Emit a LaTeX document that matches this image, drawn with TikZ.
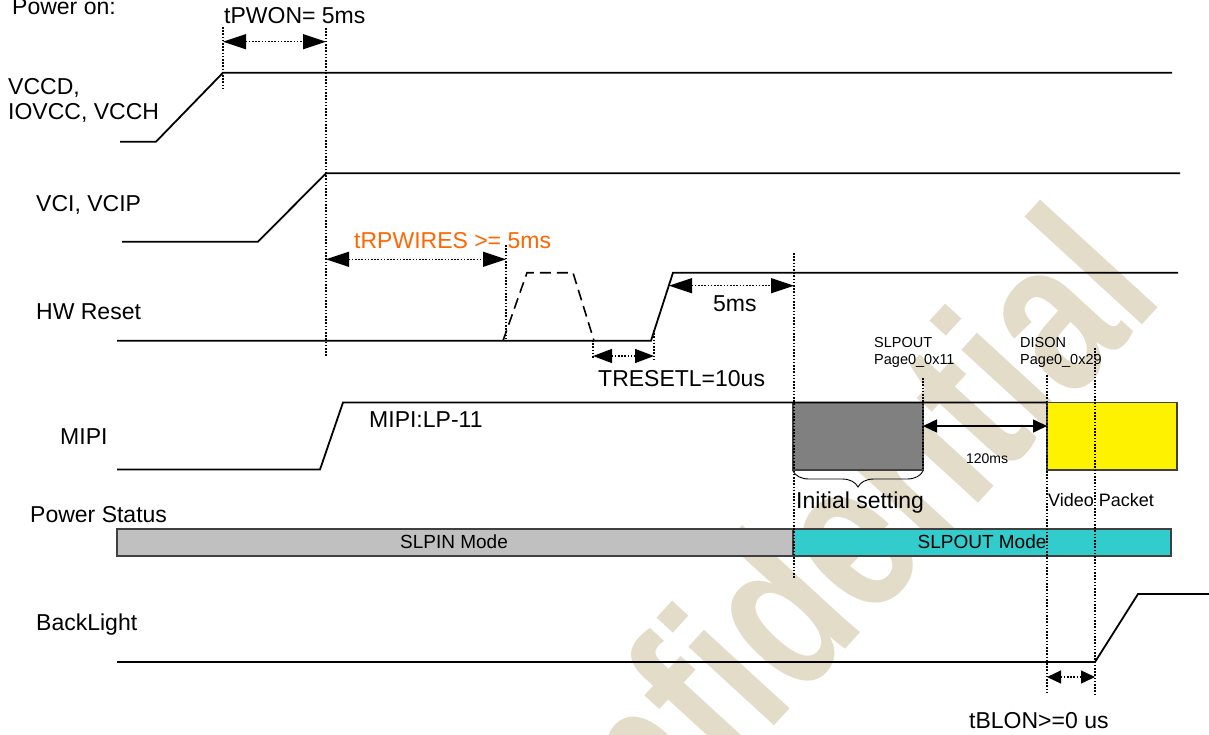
\documentclass[tikz,border=0pt]{standalone}
\usepackage{fontspec}
\setmainfont{Liberation Sans}
\usetikzlibrary{arrows.meta,decorations.pathreplacing}
\definecolor{wmcol}{RGB}{226,220,200}
\definecolor{orangetxt}{RGB}{255,102,0}
\definecolor{slpingray}{RGB}{192,192,192}
\definecolor{slpoutcyan}{RGB}{51,204,204}
\definecolor{initgray}{RGB}{128,128,128}
\begin{document}
\begin{tikzpicture}[x=1pt,y=-1pt,
  sig/.style={line width=1.8pt, black},
  pulse/.style={line width=1.6pt, black, dash pattern=on 11pt off 6pt},
  guide/.style={line width=1.3pt, black, dash pattern=on 1.6pt off 1.6pt},
  bigdim/.style={line width=1.3pt, dash pattern=on 1.6pt off 1.6pt,
    {Triangle[length=23pt,width=15pt]}-{Triangle[length=23pt,width=15pt]}},
  middim/.style={line width=1.3pt, dash pattern=on 1.6pt off 1.6pt,
    {Triangle[length=19pt,width=14pt]}-{Triangle[length=19pt,width=14pt]}},
  smalldim/.style={line width=1.3pt, dash pattern=on 1.6pt off 1.6pt,
    {Triangle[length=14pt,width=13pt]}-{Triangle[length=14pt,width=13pt]}},
  soliddim/.style={line width=1.5pt,
    {Triangle[length=14pt,width=13pt]}-{Triangle[length=14pt,width=13pt]}},
  lbl/.style={inner sep=0pt, anchor=base west, font=\fontsize{23}{26}\selectfont},
  small/.style={inner sep=0pt, anchor=base west, font=\fontsize{14.5}{17}\selectfont},
  wm/.style={rotate=47.5, anchor=base west, inner sep=0pt, text=wmcol,
    font=\fontsize{220}{220}\selectfont\bfseries},
  bar/.style={draw=black!75, line width=1.2pt}
]
\clip (0,0) rectangle (1209,735);
\fill[white] (0,0) rectangle (1209,735);

% watermark
\node[wm] (wmark) at (507,1018) {\scalebox{0.767}[1]{Confidential}};

% boxes
\draw[bar, fill=slpingray] (117,529) rectangle (793,556);
\draw[bar, fill=slpoutcyan] (793,529) rectangle (1171,556);
\draw[bar, fill=initgray] (793,402.5) rectangle (923,470);
\draw[bar, fill=yellow] (1047,402.5) rectangle (1177,470);
\node[inner sep=0pt, font=\fontsize{19}{22}\selectfont] (slpin) at (454,542) {SLPIN Mode};
\node[inner sep=0pt, font=\fontsize{19}{22}\selectfont] (slpout) at (982,542) {SLPOUT Mode};

% signals
\draw[sig] (120,141.7) -- (156,141.7) -- (223,72.7) -- (1172,72.7);
\draw[sig] (122,241.7) -- (258,241.7) -- (326,173.3) -- (1180,173.3);
\draw[sig] (117,340.7) -- (651,340.7) -- (673,272.7) -- (1178,272.7);
\draw[pulse] (503,340.7) -- (527,272.7) -- (573,272.7) -- (594,340.7);
\draw[sig] (117,469.5) -- (320,469.5) -- (343,402.5) -- (1047,402.5);
\draw[sig] (117,662) -- (1095,662) -- (1138,594) -- (1209,594);

% guide lines
\coordinate (g1t) at (223,27);   \coordinate (g1b) at (223,88);
\coordinate (g2t) at (326,28);   \coordinate (g2b) at (326,357);
\coordinate (g3t) at (506,245);  \coordinate (g3b) at (506,341);
\coordinate (g4t) at (593,340);  \coordinate (g4b) at (593,359);
\coordinate (g5t) at (654,330);  \coordinate (g5b) at (654,359);
\coordinate (g6t) at (794,253);  \coordinate (g6b) at (794,578);
\coordinate (g7t) at (923,378);  \coordinate (g7b) at (923,470);
\coordinate (g8t) at (1047,375); \coordinate (g8b) at (1047,694);
\coordinate (g9t) at (1095,348); \coordinate (g9b) at (1095,694);
\foreach \i in {1,...,9} \draw[guide] (g\i t) -- (g\i b);

% dimension arrows
\coordinate (a1l) at (223,41.7);  \coordinate (a1r) at (326,41.7);
\coordinate (a2l) at (326,259.3); \coordinate (a2r) at (506,259.3);
\coordinate (a3l) at (669,285.7); \coordinate (a3r) at (794,285.7);
\coordinate (a4l) at (593,356);   \coordinate (a4r) at (654,356);
\coordinate (a5l) at (923,426);   \coordinate (a5r) at (1047,426);
\coordinate (a6l) at (1047,677);  \coordinate (a6r) at (1095,677);
\draw[bigdim] (a1l) -- (a1r);
\draw[bigdim] (a2l) -- (a2r);
\draw[bigdim] (a3l) -- (a3r);
\draw[middim] (a4l) -- (a4r);
\draw[soliddim] (a5l) -- (a5r);
\draw[smalldim] (a6l) -- (a6r);

% brace
\draw[decorate, decoration={brace, mirror, amplitude=16pt}, line width=0.9pt]
  (793,471) -- (923,471);

% labels
\node[lbl] (poweron) at (12,14.5) {Power on:};
\node[lbl] (tpwon) at (224,24) {tPWON= 5ms};
\node[lbl] (vccd) at (8,95) {VCCD,};
\node[lbl] (iovcc) at (8,120) {IOVCC, VCCH};
\node[lbl] (vci) at (36,212) {VCI, VCIP};
\node[lbl] (hwr) at (36,319) {HW Reset};
\node[lbl, text=orangetxt] (trp) at (354,249) {tRPWIRES >= 5ms};
\node[lbl] (t5ms) at (713,311) {5ms};
\node[lbl] (treset) at (598,386) {TRESETL=10us};
\node[lbl] (mipi) at (60,444) {MIPI};
\node[lbl] (lp11) at (369,427) {MIPI:LP-11};
\node[small] (slpo1) at (874,347) {SLPOUT};
\node[small] (slpo2) at (874,364) {Page0\_0x11};
\node[small] (dis1) at (1020,347) {DISON};
\node[small] (dis2) at (1020,364) {Page0\_0x29};
\node[inner sep=0pt, anchor=base, font=\fontsize{14}{16}\selectfont] (t120) at (987,463) {120ms};
\node[lbl] (init) at (796,508) {Initial setting};
\node[inner sep=0pt, anchor=base west, font=\fontsize{18}{21}\selectfont] (video) at (1048,506) {Video Packet};
\node[lbl] (pstat) at (30,522) {Power Status};
\node[lbl] (bl) at (36,630) {BackLight};
\node[lbl] (tblon) at (969,728) {tBLON>=0 us};
\end{tikzpicture}
\end{document}
